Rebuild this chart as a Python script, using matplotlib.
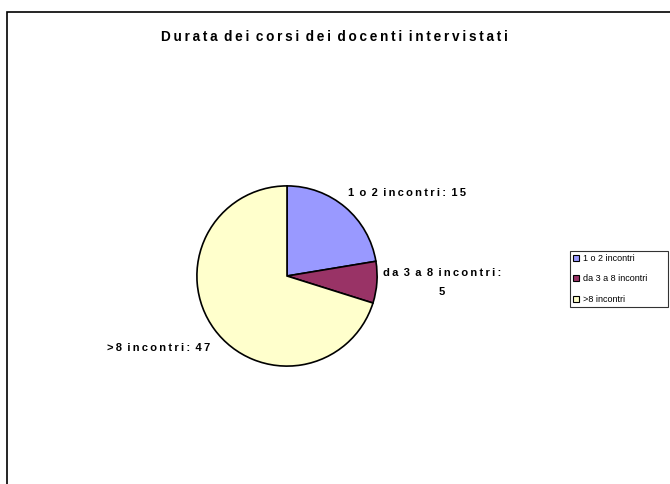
import matplotlib
matplotlib.use("Agg")
import matplotlib.pyplot as plt
from matplotlib.patches import Rectangle

categories = ["1 o 2 incontri", "da 3 a 8 incontri", ">8 incontri"]
values = [15, 5, 47]
colors = ["#9999FF", "#993366", "#FFFFCC"]
title = "Durata dei corsi dei docenti intervistati"

plt.rcParams['font.family'] = ['Liberation Sans', 'DejaVu Sans']
TS = "\u2009"  # thin space used as letter tracking


def spaced(s):
    out = ""
    for i, ch in enumerate(s):
        out += ch
        if i < len(s) - 1 and s[i + 1] != " ":
            out += TS
    return out


W, H = 670, 484
fig = plt.figure(figsize=(W / 100, H / 100), dpi=100)

# outer frame (open to right/bottom)
fig.patches.append(Rectangle((7 / W, -0.1), 1.2, (H - 12) / H + 0.1, transform=fig.transFigure,
                             fill=False, edgecolor="black", linewidth=1.2))

cx, cy, r = 287, H - 276, 91
ax = fig.add_axes([(cx - r) / W, (cy - r) / H, 2 * r / W, 2 * r / H])
wedges, _ = ax.pie(values, colors=colors, startangle=90, counterclock=False,
                   radius=1, wedgeprops=dict(edgecolor="black", linewidth=1.2))
ax.set_xlim(-1.01, 1.01)
ax.set_ylim(-1.01, 1.01)
ax.set_aspect("equal")
ax.axis("off")

fig.text(334 / W, 1 - 37 / H, spaced(title), ha="center", va="center", fontsize=9.8,
         fontweight="bold")

lab_kw = dict(fontsize=8, fontweight="bold")
fig.text(407 / W, 1 - 193 / H, spaced(f"{categories[0]}: {values[0]}"), ha="center", va="center", **lab_kw)
fig.text(442 / W, 1 - 273 / H, spaced(f"{categories[1]}:"), ha="center", va="center", **lab_kw)
fig.text(442 / W, 1 - 292 / H, f"{values[1]}", ha="center", va="center", **lab_kw)
fig.text(159 / W, 1 - 348 / H, spaced(f"{categories[2]}: {values[2]}"), ha="center", va="center", **lab_kw)

leg = fig.legend(wedges, categories, loc="upper left",
                 bbox_to_anchor=(570 / W, 1 - 251 / H, 98 / W, 0.0), mode="expand",
                 fontsize=6.5, frameon=True, fancybox=False, edgecolor="black",
                 handlelength=0.65, handleheight=0.65, handletextpad=0.4,
                 labelspacing=1.25, borderpad=0.35, borderaxespad=0)
leg.get_frame().set_linewidth(0.8)
for h in leg.legend_handles:
    h.set_edgecolor("black")
    h.set_linewidth(0.8)

fig.savefig("out.png", dpi=100)
